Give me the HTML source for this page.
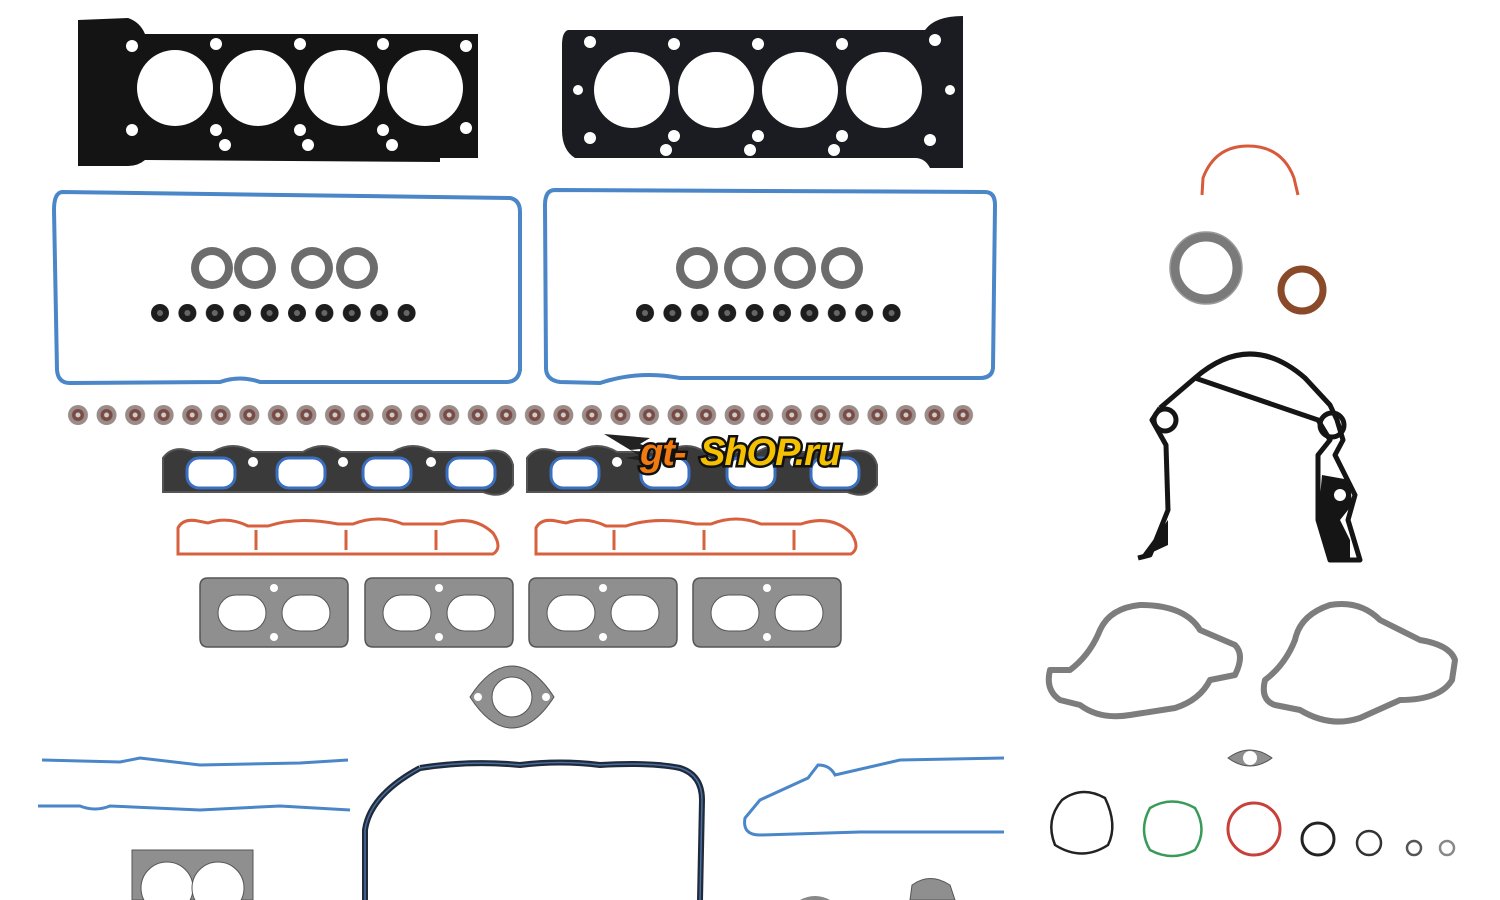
<!DOCTYPE html>
<html><head><meta charset="utf-8"><style>
html,body{margin:0;padding:0;background:#fff;width:1500px;height:900px;overflow:hidden}
svg{display:block}
</style></head><body>
<svg width="1500" height="900" viewBox="0 0 1500 900" xmlns="http://www.w3.org/2000/svg">
<defs>
<pattern id="seal" x="64" y="401" width="28.55" height="28" patternUnits="userSpaceOnUse">
<circle cx="14" cy="14" r="10" fill="#9a8c88"/><circle cx="14" cy="14" r="6" fill="#7a4a45"/><circle cx="14" cy="14" r="2.5" fill="#ccc"/>
</pattern>
<pattern id="dotL" x="146" y="299" width="27.4" height="28" patternUnits="userSpaceOnUse">
<circle cx="14" cy="14" r="9" fill="#1d1d1d"/><circle cx="14" cy="14" r="3" fill="#666"/>
</pattern>
<pattern id="dotR" x="631" y="299" width="27.4" height="28" patternUnits="userSpaceOnUse">
<circle cx="14" cy="14" r="9" fill="#1d1d1d"/><circle cx="14" cy="14" r="3" fill="#666"/>
</pattern>
<g id="ring"><circle r="21" fill="#6c6c6c"/><circle r="13" fill="#fff"/></g>
<g id="exh">
<path d="M0,8 Q0,0 8,0 H140 Q148,0 148,8 V60 Q148,69 140,69 H8 Q0,69 0,60 Z" fill="#8f8f8f" stroke="#555" stroke-width="1.5"/>
<rect x="18" y="17" width="48" height="36" rx="18" fill="#fff" stroke="#555"/>
<rect x="82" y="17" width="48" height="36" rx="18" fill="#fff" stroke="#555"/>
<circle cx="74" cy="10" r="4" fill="#fff"/><circle cx="74" cy="59" r="4" fill="#fff"/>
</g>
<g id="intake">
<path d="M0,8 Q10,-6 30,2 L50,2 Q70,-10 90,2 L140,2 Q160,-10 178,2 L230,2 Q250,-10 270,2 L320,2 Q345,-4 350,15 L350,35 Q340,50 320,42 L0,42 Z" fill="#3a3a3a" stroke="#555" stroke-width="2"/>
<rect x="24" y="8" width="48" height="30" rx="12" fill="#fff" stroke="#3a6fc0" stroke-width="3"/>
<rect x="114" y="8" width="48" height="30" rx="12" fill="#fff" stroke="#3a6fc0" stroke-width="3"/>
<rect x="200" y="8" width="48" height="30" rx="12" fill="#fff" stroke="#3a6fc0" stroke-width="3"/>
<rect x="284" y="8" width="48" height="30" rx="12" fill="#fff" stroke="#3a6fc0" stroke-width="3"/>
<circle cx="90" cy="12" r="5" fill="#fff"/><circle cx="180" cy="12" r="5" fill="#fff"/><circle cx="268" cy="12" r="5" fill="#fff"/>
</g>
<g id="oint" fill="none" stroke="#d7603e" stroke-width="3">
<path d="M0,10 Q5,0 20,3 L30,5 Q50,-2 70,8 L90,8 Q120,-2 160,6 L175,6 Q200,-4 225,6 L265,6 Q295,-4 315,15 Q325,30 315,36 L0,36 Z"/>
<path d="M78,12 L78,32 M168,12 L168,32 M258,12 L258,32"/>
</g>
</defs>

<!-- head gaskets -->
<g>
<path d="M78,20 L128,18 Q140,22 145,34 L478,34 L478,158 L440,158 L440,162 L145,160 Q138,166 128,166 L78,166 Z" fill="#141414"/>
<circle cx="175" cy="88" r="38" fill="#fff"/><circle cx="258" cy="88" r="38" fill="#fff"/>
<circle cx="342" cy="88" r="38" fill="#fff"/><circle cx="425" cy="88" r="38" fill="#fff"/>
<g fill="#fff"><circle cx="132" cy="46" r="6"/><circle cx="216" cy="44" r="6"/><circle cx="300" cy="44" r="6"/><circle cx="383" cy="44" r="6"/><circle cx="466" cy="46" r="6"/>
<circle cx="132" cy="130" r="6"/><circle cx="216" cy="130" r="6"/><circle cx="300" cy="130" r="6"/><circle cx="383" cy="130" r="6"/><circle cx="466" cy="128" r="6"/>
<circle cx="225" cy="145" r="6"/><circle cx="308" cy="145" r="6"/><circle cx="392" cy="145" r="6"/></g>
</g>
<g>
<path d="M568,30 L925,30 Q935,16 963,16 L963,168 L930,168 Q925,158 915,158 L575,158 Q562,150 562,130 L562,45 Q562,32 568,30 Z" fill="#1a1c22"/>
<circle cx="632" cy="90" r="38" fill="#fff"/><circle cx="716" cy="90" r="38" fill="#fff"/>
<circle cx="800" cy="90" r="38" fill="#fff"/><circle cx="884" cy="90" r="38" fill="#fff"/>
<g fill="#fff"><circle cx="590" cy="42" r="6"/><circle cx="674" cy="44" r="6"/><circle cx="758" cy="44" r="6"/><circle cx="842" cy="44" r="6"/><circle cx="935" cy="40" r="6"/>
<circle cx="578" cy="90" r="5"/><circle cx="950" cy="90" r="5"/>
<circle cx="590" cy="138" r="6"/><circle cx="674" cy="136" r="6"/><circle cx="758" cy="136" r="6"/><circle cx="842" cy="136" r="6"/><circle cx="930" cy="140" r="6"/>
<circle cx="666" cy="150" r="6"/><circle cx="750" cy="150" r="6"/><circle cx="834" cy="150" r="6"/></g>
</g>

<!-- valve cover gaskets -->
<path d="M62,192 L510,198 Q520,200 520,212 L520,370 Q518,382 506,382 L260,382 Q240,375 220,382 L70,383 Q58,383 57,370 L54,210 Q54,193 62,192 Z" fill="none" stroke="#4a86c8" stroke-width="4"/>
<path d="M555,190 L985,192 Q995,192 995,205 L993,368 Q992,378 980,378 L680,378 Q640,370 600,383 L560,382 Q546,380 546,368 L545,205 Q545,190 555,190 Z" fill="none" stroke="#4a86c8" stroke-width="4"/>
<use href="#ring" x="212" y="268"/><use href="#ring" x="255" y="268"/><use href="#ring" x="312" y="268"/><use href="#ring" x="357" y="268"/>
<use href="#ring" x="697" y="268"/><use href="#ring" x="745" y="268"/><use href="#ring" x="795" y="268"/><use href="#ring" x="842" y="268"/>
<rect x="146" y="299" width="274" height="28" fill="url(#dotL)"/>
<rect x="631" y="299" width="274" height="28" fill="url(#dotR)"/>

<!-- valve seals -->
<rect x="64" y="401" width="914" height="28" fill="url(#seal)"/>

<!-- intake gaskets -->
<use href="#intake" x="163" y="450"/>
<use href="#intake" x="527" y="450"/>
<use href="#oint" x="178" y="518"/>
<use href="#oint" x="536" y="518"/>

<!-- logo -->
<g>
<polygon points="604,434 650,438 640,444 652,448 630,450 648,454 625,458 650,462" fill="#222"/>
<text x="640" y="465" font-family="Liberation Sans, sans-serif" font-weight="bold" font-style="italic" font-size="38" fill="#f07a10" stroke="#111" stroke-width="5" paint-order="stroke" letter-spacing="-1">gt-</text>
<text x="700" y="465" font-family="Liberation Sans, sans-serif" font-weight="bold" font-style="italic" font-size="38" fill="#f5c000" stroke="#111" stroke-width="5" paint-order="stroke" letter-spacing="-1">ShOP.ru</text>
</g>

<!-- exhaust -->
<use href="#exh" x="200" y="578"/><use href="#exh" x="365" y="578"/>
<use href="#exh" x="529" y="578"/><use href="#exh" x="693" y="578"/>

<!-- small egr gasket -->
<path d="M470,697 Q490,666 512,666 Q534,666 554,697 Q534,728 512,728 Q490,728 470,697 Z" fill="#8f8f8f" stroke="#555"/>
<circle cx="512" cy="697" r="20" fill="#fff" stroke="#555"/>
<circle cx="478" cy="697" r="4" fill="#fff"/><circle cx="546" cy="697" r="4" fill="#fff"/>

<!-- blue strips -->
<path d="M42,760 L120,762 L140,758 L200,765 L300,763 L348,760" fill="none" stroke="#4a86c8" stroke-width="3"/>
<path d="M38,806 L80,806 Q95,812 110,806 L200,810 L280,806 L350,810" fill="none" stroke="#4a86c8" stroke-width="3"/>
<path d="M1004,758 L900,760 L835,775 Q830,765 818,765 L808,778 L760,800 L745,818 Q742,835 760,835 L860,832 L1004,832" fill="none" stroke="#4a86c8" stroke-width="3"/>

<!-- oil pan -->
<path d="M420,768 Q470,760 520,765 Q560,760 600,765 Q650,762 680,768 Q702,775 702,800 L700,900 M365,900 L365,830 Q370,795 420,768" fill="none" stroke="#1f2a3a" stroke-width="6"/>
<path d="M420,768 Q470,760 520,765 Q560,760 600,765 Q650,762 680,768 Q702,775 702,800 L700,900 M365,900 L365,830 Q370,795 420,768" fill="none" stroke="#4a6ea0" stroke-width="1.5"/>

<!-- throttle body -->
<path d="M132,850 L253,850 L253,900 L132,900 Z" fill="#8f8f8f" stroke="#555"/>
<circle cx="167" cy="888" r="26" fill="#fff" stroke="#555"/><circle cx="218" cy="888" r="26" fill="#fff" stroke="#555"/>
<path d="M800,900 Q815,892 830,900" fill="#888"/>
<path d="M910,900 L912,885 Q930,872 950,885 L955,900 Z" fill="#8f8f8f" stroke="#555"/>

<!-- right side -->
<path d="M1202,195 L1203,178 Q1215,146 1248,146 Q1282,146 1294,178 L1298,195" fill="none" stroke="#d85a3a" stroke-width="3"/>
<circle cx="1206" cy="268" r="31" fill="none" stroke="#7a7a7a" stroke-width="9"/>
<circle cx="1206" cy="268" r="36" fill="none" stroke="#999" stroke-width="1.5"/>
<circle cx="1302" cy="290" r="21" fill="none" stroke="#8a4a2a" stroke-width="7"/>

<!-- timing cover -->
<path d="M1160,408 L1195,378 Q1250,330 1305,378 L1330,405 L1337,420 L1343,440 L1335,455 L1345,475 L1355,495 L1348,520 L1360,560 L1330,560 L1318,520 L1318,455 L1330,440 L1318,420 L1195,378 M1160,408 L1152,420 L1166,445 L1168,510 L1150,555 L1138,558" fill="none" stroke="#151515" stroke-width="5" stroke-linejoin="round"/>
<circle cx="1165" cy="420" r="11" fill="none" stroke="#151515" stroke-width="5"/>
<circle cx="1332" cy="425" r="12" fill="none" stroke="#151515" stroke-width="5"/>
<path d="M1322,475 L1350,480 L1352,505 L1340,520 L1350,540 L1350,560 L1330,560 L1318,520 Z" fill="#151515"/>
<circle cx="1340" cy="495" r="6" fill="#fff"/>
<path d="M1168,520 L1168,545 L1140,558 Z" fill="#151515"/>

<!-- water pump gaskets -->
<g fill="none" stroke="#7d7d7d" stroke-width="6" stroke-linejoin="round">
<path d="M1050,670 Q1045,690 1060,700 L1080,705 Q1100,720 1130,715 L1175,708 Q1200,700 1210,680 L1235,675 Q1245,655 1235,645 L1200,630 Q1185,605 1140,605 Q1110,608 1100,630 Q1090,655 1070,670 Z"/>
<path d="M1265,680 Q1260,700 1275,705 L1300,710 Q1330,728 1360,718 L1400,700 Q1440,700 1452,680 L1455,660 Q1450,645 1420,640 L1380,620 Q1360,600 1330,605 Q1300,615 1295,640 Q1285,665 1265,680 Z"/>
</g>
<path d="M1228,758 Q1250,742 1272,758 Q1250,774 1228,758 Z" fill="#8f8f8f" stroke="#555"/>
<circle cx="1250" cy="758" r="7" fill="#fff"/>

<!-- o-rings -->
<path d="M1062,800 Q1082,785 1105,798 Q1118,825 1108,845 Q1082,862 1055,845 Q1045,820 1062,800 Z" fill="none" stroke="#222" stroke-width="2.5"/>
<path d="M1150,808 Q1172,795 1195,808 Q1208,830 1195,850 Q1172,862 1150,850 Q1138,830 1150,808 Z" fill="none" stroke="#3a9a5a" stroke-width="2.5"/>
<circle cx="1254" cy="829" r="26" fill="none" stroke="#c8403a" stroke-width="3"/>
<circle cx="1318" cy="839" r="16" fill="none" stroke="#222" stroke-width="3"/>
<circle cx="1369" cy="843" r="12" fill="none" stroke="#333" stroke-width="2.5"/>
<circle cx="1414" cy="848" r="7" fill="none" stroke="#555" stroke-width="2.5"/>
<circle cx="1447" cy="848" r="7" fill="none" stroke="#888" stroke-width="2.5"/>
</svg>
</body></html>
